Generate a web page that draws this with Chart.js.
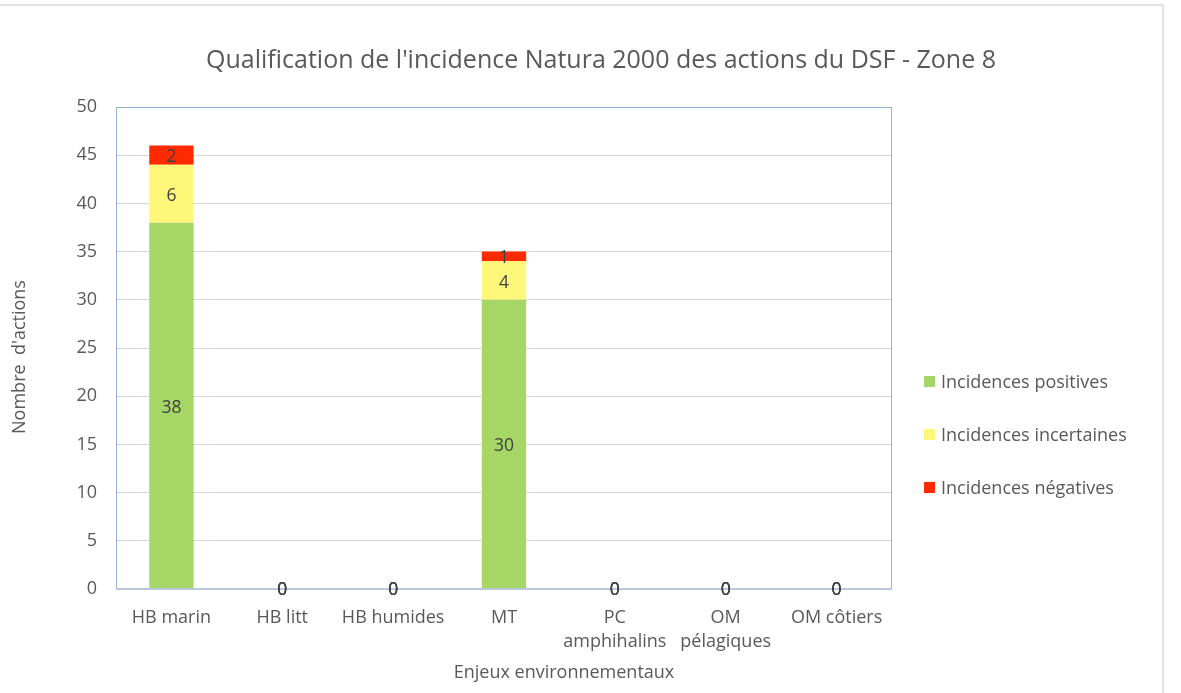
<!DOCTYPE html>
<html>
<head>
<meta charset="utf-8">
<script src="https://cdn.jsdelivr.net/npm/chart.js@4"></script>
<style>
  body { margin: 0; background: #fff; }
  canvas { display: block; }
</style>
</head>
<body>
<canvas id="chart" width="1181" height="693"></canvas>
<script>
// Chart data
const categories = ['HB marin', 'HB litt', 'HB humides', 'MT', ['PC', 'amphihalins'], ['OM', 'pélagiques'], 'OM côtiers'];
const positives = [38, 0, 0, 30, 0, 0, 0];
const incertaines = [6, 0, 0, 4, 0, 0, 0];
const negatives = [2, 0, 0, 1, 0, 0, 0];
const seriesNames = ['Incidences positives', 'Incidences incertaines', 'Incidences négatives'];
const seriesColors = ['#a6d665', '#fff77a', '#ff2a00'];
const yMin = 0, yMax = 50, yStep = 5;

const titleText = "Qualification de l'incidence Natura 2000 des actions du DSF - Zone 8";
const yTitle = "Nombre  d'actions";
const xTitle = 'Enjeux environnementaux';

const FONT = '"Open Sans", Lato, sans-serif';
const TEXT = '#595959';

// Frame, titles, legend and value labels
const decor = {
    id: 'decor',
    beforeDraw(chart) {
        const ctx = chart.ctx;
        ctx.save();
        ctx.fillStyle = '#fff';
        ctx.fillRect(0, 0, chart.width, chart.height);
        ctx.strokeStyle = '#e3e3e3';
        ctx.lineWidth = 2;
        ctx.beginPath();
        ctx.moveTo(0, 5);
        ctx.lineTo(1163, 5);
        ctx.lineTo(1163, chart.height);
        ctx.stroke();
        ctx.restore();
    },
    afterDatasetsDraw(chart) {
        const ctx = chart.ctx;
        const a = chart.chartArea;
        ctx.save();
        // plot frame
        ctx.strokeStyle = '#95b3d7';
        ctx.lineWidth = 1;
        ctx.strokeRect(a.left + 0.5, a.top + 0.5, a.right - a.left - 1, a.bottom - a.top);
        ctx.strokeStyle = '#b9c9dc';
        ctx.lineWidth = 2;
        ctx.beginPath();
        ctx.moveTo(a.left, a.bottom);
        ctx.lineTo(a.right, a.bottom);
        ctx.stroke();

        // value labels
        ctx.fillStyle = '#404040';
        ctx.font = '17.5px ' + FONT;
        ctx.textAlign = 'center';
        ctx.textBaseline = 'middle';
        chart.data.datasets.forEach((ds, i) => {
            const meta = chart.getDatasetMeta(i);
            meta.data.forEach((el, j) => {
                const v = ds.data[j];
                if (v === 0) {
                    ctx.fillText('0', el.x, el.base + 1);
                } else {
                    ctx.fillText(String(v), el.x, (el.y + el.base) / 2 + 2);
                }
            });
        });

        // title
        ctx.fillStyle = TEXT;
        ctx.font = '25px ' + FONT;
        ctx.fillText(titleText, 601, 61);

        // axis titles
        ctx.font = '18px ' + FONT;
        ctx.fillText(xTitle, 564, 673);
        ctx.save();
        ctx.translate(20, 357);
        ctx.rotate(-Math.PI / 2);
        ctx.fillText(yTitle, 0, 0);
        ctx.restore();

        // legend
        ctx.textAlign = 'left';
        const ys = [383, 436, 489];
        chart.data.datasets.forEach((ds, i) => {
            ctx.fillStyle = ds.backgroundColor;
            ctx.fillRect(924, ys[i] - 7, 11, 11);
            ctx.fillStyle = TEXT;
            ctx.fillText(ds.label, 941, ys[i]);
        });
        ctx.restore();
    }
};

const ctx = document.getElementById('chart').getContext('2d');
new Chart(ctx, {
    type: 'bar',
    data: {
        labels: categories,
        datasets: [
            { label: seriesNames[0], data: positives, backgroundColor: seriesColors[0] },
            { label: seriesNames[1], data: incertaines, backgroundColor: seriesColors[1] },
            { label: seriesNames[2], data: negatives, backgroundColor: seriesColors[2] }
        ]
    },
    options: {
        responsive: false,
        animation: false,
        categoryPercentage: 1,
        barPercentage: 0.4,
        layout: { padding: { left: 0, top: 107, right: 289, bottom: 0 } },
        plugins: {
            legend: { display: false },
            title: { display: false },
            tooltip: { enabled: false }
        },
        scales: {
            x: {
                stacked: true,
                grid: { display: false, drawTicks: false },
                border: { display: false },
                ticks: {
                    color: TEXT,
                    font: { family: FONT, size: 18, lineHeight: 1.38 },
                    padding: 16,
                    maxRotation: 0,
                    autoSkip: false
                },
                afterFit(scale) { scale.height = 104; }
            },
            y: {
                stacked: true,
                min: yMin,
                max: yMax,
                grid: { color: '#d9d9d9', drawTicks: false },
                border: { display: false },
                ticks: {
                    stepSize: yStep,
                    color: TEXT,
                    font: { family: FONT, size: 18 },
                    padding: 19
                },
                afterFit(scale) { scale.width = 116; }
            }
        }
    },
    plugins: [decor]
});
</script>
</body>
</html>
